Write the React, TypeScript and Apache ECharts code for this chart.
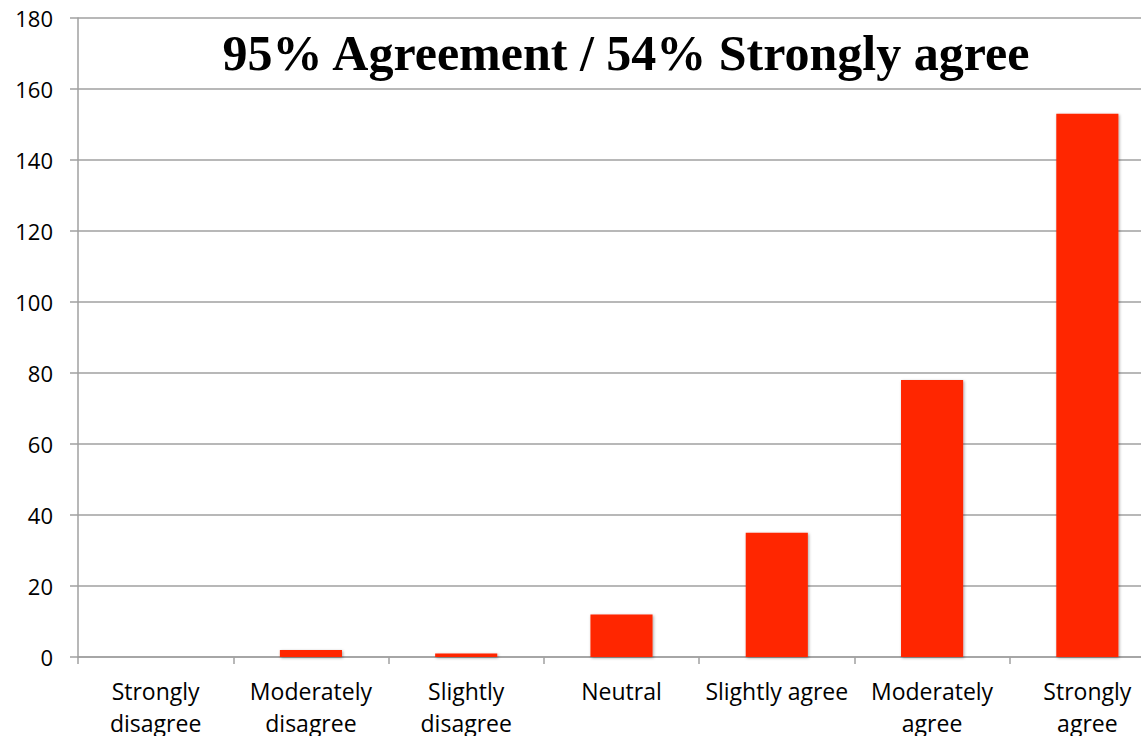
import React, { useEffect, useRef } from "react";
import * as echarts from "echarts";

const categories = [
  "Strongly\ndisagree",
  "Moderately\ndisagree",
  "Slightly\ndisagree",
  "Neutral",
  "Slightly agree",
  "Moderately\nagree",
  "Strongly\nagree",
];
const counts = [0, 2, 1, 12, 35, 78, 153];
const titleText = "95% Agreement / 54% Strongly agree";

export default function App() {
  const ref = useRef<HTMLDivElement>(null);
  useEffect(() => {
    const chart = echarts.init(ref.current!, null, { renderer: "svg" });
    const gray = "#a0a0a0";
    chart.setOption({
      animation: false,
      backgroundColor: "#ffffff",
      title: {
        text: titleText,
        left: 621,
        textAlign: "center",
        top: 23,
        textStyle: {
          fontFamily: "Liberation Serif",
          fontWeight: "bold",
          fontSize: 50,
          color: "#000",
        },
      },
      grid: {
        left: 78,
        top: 18,
        bottom: 79,
        right: -24,
        containLabel: false,
        outerBoundsMode: "none",
      },
      xAxis: {
        type: "category",
        data: categories,
        axisLine: { lineStyle: { color: gray, width: 1.5 } },
        axisTick: { show: true, length: 7, lineStyle: { color: gray, width: 1.5 } },
        axisLabel: {
          interval: 0,
          margin: 18,
          fontFamily: "Open Sans",
          fontSize: 23,
          lineHeight: 32,
          color: "#000",
        },
      },
      yAxis: {
        type: "value",
        min: 0,
        max: 180,
        interval: 20,
        axisLine: { show: true, lineStyle: { color: gray, width: 1.5 } },
        axisTick: { show: true, length: 8, lineStyle: { color: gray, width: 1.5 } },
        axisLabel: {
          margin: 25,
          fontFamily: "Open Sans",
          fontSize: 22,
          color: "#000",
        },
        splitLine: { lineStyle: { color: gray, width: 1.5 } },
      },
      series: [
        {
          type: "bar",
          data: counts,
          barWidth: "40%",
          itemStyle: {
            color: "#FF2600",
            shadowColor: "rgba(0,0,0,0.35)",
            shadowBlur: 3,
            shadowOffsetX: 1,
            shadowOffsetY: 1,
          },
        },
      ],
    });
    return () => chart.dispose();
  }, []);
  return (
    <div
      ref={ref}
      style={{ position: "absolute", left: 0, top: 0, width: 1141, height: 736 }}
    />
  );
}
